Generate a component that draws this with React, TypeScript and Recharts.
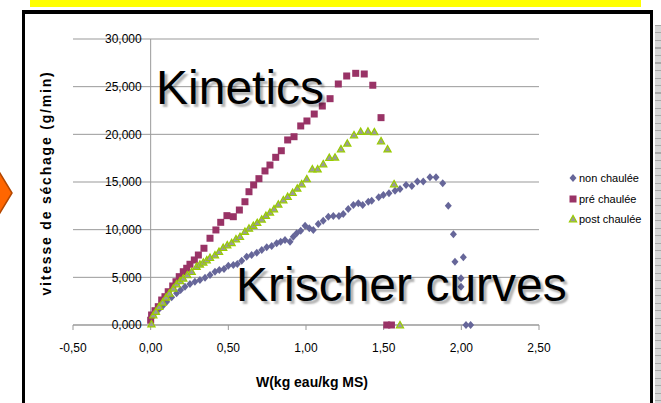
import React from "react";
import { CartesianGrid, Label, Legend, ReferenceLine, Scatter, ScatterChart, XAxis, YAxis } from "recharts";

// W (kg eau/kg MS) and vitesse de séchage (g/min)
const nonW = [0.021, 0.049, 0.077, 0.103, 0.135, 0.167, 0.193, 0.221, 0.253, 0.285, 0.317, 0.35, 0.382, 0.414, 0.442, 0.472, 0.5, 0.532, 0.558, 0.586, 0.618, 0.65, 0.683, 0.715, 0.747, 0.779, 0.811, 0.837, 0.865, 0.897, 0.918, 0.94, 0.966, 0.994, 1.021, 1.047, 1.079, 1.111, 1.144, 1.176, 1.212, 1.24, 1.272, 1.305, 1.337, 1.365, 1.401, 1.423, 1.468, 1.498, 1.534, 1.573, 1.605, 1.644, 1.681, 1.717, 1.755, 1.798, 1.837, 1.88, 1.916, 1.949, 1.959, 2.013, 1.998, 1.998, 2.03, 2.06];
const nonV = [1150, 1570, 1990, 2450, 2900, 3320, 3670, 4020, 4300, 4540, 4720, 4960, 5250, 5590, 5770, 5870, 6220, 6290, 6400, 6750, 7170, 7340, 7580, 7870, 8150, 8290, 8570, 8740, 8920, 8740, 9260, 9620, 9890, 10420, 10140, 9970, 10600, 10940, 11360, 11430, 11430, 11640, 12170, 12590, 12770, 12590, 12930, 13040, 13400, 13640, 13820, 14090, 14270, 14690, 14580, 15040, 15040, 15490, 15490, 14860, 12520, 9510, 6640, 7100, 4900, 4020, 0, 0];

const preW = [0.0, 0.006, 0.028, 0.049, 0.071, 0.092, 0.113, 0.142, 0.163, 0.184, 0.21, 0.232, 0.253, 0.281, 0.307, 0.343, 0.382, 0.42, 0.451, 0.491, 0.532, 0.571, 0.607, 0.633, 0.663, 0.697, 0.736, 0.768, 0.805, 0.841, 0.882, 0.923, 0.966, 1.006, 1.053, 1.105, 1.155, 1.208, 1.262, 1.32, 1.375, 1.43, 1.483, 1.52, 1.55];
const preV = [500, 1050, 1500, 1920, 2620, 2970, 3490, 4090, 4540, 5070, 5590, 5950, 6370, 6820, 7340, 8050, 9100, 9970, 10770, 11470, 11360, 12060, 12930, 13980, 14690, 15350, 16160, 16780, 17590, 18280, 19410, 19750, 20880, 21400, 22130, 22970, 23740, 25280, 26120, 26400, 26330, 25150, 21750, 0, 0];

const postW = [0.005, 0.017, 0.034, 0.055, 0.077, 0.099, 0.12, 0.146, 0.167, 0.189, 0.21, 0.236, 0.264, 0.296, 0.317, 0.339, 0.361, 0.382, 0.414, 0.44, 0.467, 0.493, 0.521, 0.549, 0.575, 0.607, 0.633, 0.661, 0.686, 0.715, 0.742, 0.768, 0.794, 0.822, 0.854, 0.882, 0.914, 0.944, 0.972, 1.005, 1.041, 1.075, 1.111, 1.15, 1.187, 1.225, 1.266, 1.309, 1.352, 1.399, 1.44, 1.483, 1.525, 1.567, 1.605];
const postV = [100, 1050, 1400, 1920, 2380, 2910, 3330, 3850, 4300, 4620, 4900, 5250, 5590, 6120, 6370, 6580, 6820, 7060, 7340, 7690, 8110, 8390, 8630, 9020, 9260, 9790, 10140, 10420, 10730, 11090, 11470, 11820, 12170, 12660, 13110, 13460, 13880, 14340, 14790, 15320, 16360, 16360, 16890, 17550, 17590, 18460, 19060, 19930, 20280, 20310, 20250, 19300, 18450, 14790, 0];

const SERIES_NAMES = ["non chaulée", "pré chaulée", "post chaulée"];
const X_TICKS = [-0.5, 0, 0.5, 1, 1.5, 2, 2.5];
const X_TICK_LABELS = ["-0,50", "0,00", "0,50", "1,00", "1,50", "2,00", "2,50"];
const Y_TICKS = [0, 5000, 10000, 15000, 20000, 25000, 30000];
const Y_TICK_LABELS = ["0,000", "5,000", "10,000", "15,000", "20,000", "25,000", "30,000"];

const toPoints = (w: number[], v: number[]) => w.map((x, i) => ({ w: x, v: v[i] }));

const FONT = '"Liberation Sans", Arial, sans-serif';
const X_MIN = -0.5;
const X_MAX = 2.5;
const PLOT_LEFT = 73;
const PLOT_RIGHT = 539;
const ZERO_X = PLOT_LEFT + ((0 - X_MIN) / (X_MAX - X_MIN)) * (PLOT_RIGHT - PLOT_LEFT);

const BLUE = "#666699";
const PLUM = "#993366";
const GREEN = "#99cc00";

const diamond = (cx: number, cy: number) => (
  <polygon points={`${cx},${cy - 4} ${cx + 3.5},${cy} ${cx},${cy + 4} ${cx - 3.5},${cy}`} fill={BLUE} />
);
const square = (cx: number, cy: number) => <rect x={cx - 3.5} y={cy - 3.5} width={7} height={7} fill={PLUM} />;
const triangle = (cx: number, cy: number) => (
  <polygon
    points={`${cx},${cy - 3.6} ${cx + 3.6},${cy + 2.8} ${cx - 3.6},${cy + 2.8}`}
    fill="#9a9a9a"
    stroke={GREEN}
    strokeWidth={1.2}
  />
);

const MARKERS: Record<string, (cx: number, cy: number) => React.ReactElement> = {
  "non chaulée": diamond,
  "pré chaulée": square,
  "post chaulée": triangle,
};

function YTick({ y, payload }: any) {
  const idx = Y_TICKS.indexOf(payload.value);
  return (
    <text x={ZERO_X - 9} y={y} dy="0.35em" textAnchor="end" fontSize={12} fill="#000">
      {Y_TICK_LABELS[idx]}
    </text>
  );
}

function LegendContent({ payload }: any) {
  const items = [...(payload || [])].sort(
    (a: any, b: any) => SERIES_NAMES.indexOf(a.value) - SERIES_NAMES.indexOf(b.value)
  );
  return (
    <div style={{ fontSize: 11, fontFamily: FONT, color: "#000" }}>
      {items.map((entry: any) => (
        <div key={entry.value} style={{ display: "flex", alignItems: "center", height: 20.5 }}>
          <svg width={10} height={10} style={{ overflow: "visible" }}>
            {MARKERS[entry.value](5, 5)}
          </svg>
          <span style={{ marginLeft: 1, whiteSpace: "nowrap" }}>{entry.value}</span>
        </div>
      ))}
    </div>
  );
}

const overlayText: React.CSSProperties = {
  position: "absolute",
  fontFamily: FONT,
  fontSize: 48,
  lineHeight: "48px",
  color: "#000",
  whiteSpace: "nowrap",
  textShadow: "3px 3px 2px rgba(0,0,0,0.3)",
};

export default function App() {
  return (
    <div style={{ position: "absolute", left: 0, top: 0, width: 661, height: 403, background: "#fff", overflow: "hidden", fontFamily: FONT }}>
      <div style={{ position: "absolute", left: 30, top: 0, width: 611, height: 7, background: "#ffff00" }} />
      <div style={{ position: "absolute", left: 22, top: 10, width: 625, height: 400, borderStyle: "solid", borderColor: "#000", borderWidth: "4px 3px 0 3px" }} />
      <div
        style={{
          position: "absolute",
          left: 655,
          top: 25,
          width: 6,
          height: 378,
          background: "repeating-linear-gradient(180deg, #a8a8a8 0px, #a8a8a8 1px, #d6d6d6 1px, #d6d6d6 7.5px)",
        }}
      />
      <svg width={14} height={60} style={{ position: "absolute", left: 0, top: 166 }}>
        <polygon points="-2,4 12,27 -2,50" fill="#ff6600" stroke="#b34700" strokeWidth={1.5} />
      </svg>

      <div style={{ position: "absolute", left: 0, top: 0 }}>
        <ScatterChart width={661} height={403} margin={{ top: 39, right: 122, bottom: 0, left: 0 }}>
          <CartesianGrid vertical={false} stroke="#999" />
          <XAxis
            type="number"
            dataKey="w"
            domain={[X_MIN, X_MAX]}
            ticks={X_TICKS}
            tickFormatter={(v: number) => X_TICK_LABELS[X_TICKS.indexOf(v)]}
            height={78}
            axisLine={{ stroke: "#999" }}
            tickLine={{ stroke: "#999" }}
            tickSize={5}
            tickMargin={13}
            tick={{ fontSize: 12, fill: "#000" }}
            allowDataOverflow
          >
            <Label
              content={() => (
                <text x={312} y={387} textAnchor="middle" fontSize={14} fontWeight="bold" fill="#000">
                  W(kg eau/kg MS)
                </text>
              )}
            />
          </XAxis>
          <YAxis
            type="number"
            dataKey="v"
            domain={[0, 30000]}
            ticks={Y_TICKS}
            width={73}
            axisLine={false}
            tickLine={false}
            tick={<YTick />}
          >
            <Label
              content={() => (
                <text
                  x={46}
                  y={183}
                  transform="rotate(-90 46 183)"
                  textAnchor="middle"
                  dominantBaseline="central"
                  fontSize={14}
                  fontWeight="bold"
                  letterSpacing={1.8}
                  fill="#000"
                >
                  vitesse de séchage (g/min)
                </text>
              )}
            />
          </YAxis>
          <ReferenceLine x={0} stroke="#999" />
          <Legend
            layout="vertical"
            align="center"
            verticalAlign="middle"
            wrapperStyle={{ left: 568, top: 168, width: 90 }}
            content={<LegendContent />}
          />
          <Scatter
            name="non chaulée"
            data={toPoints(nonW, nonV)}
            legendType="diamond"
            shape={(p: any) => diamond(p.cx, p.cy)}
            isAnimationActive={false}
          />
          <Scatter
            name="pré chaulée"
            data={toPoints(preW, preV)}
            legendType="square"
            shape={(p: any) => square(p.cx, p.cy)}
            isAnimationActive={false}
          />
          <Scatter
            name="post chaulée"
            data={toPoints(postW, postV)}
            legendType="triangle"
            shape={(p: any) => triangle(p.cx, p.cy)}
            isAnimationActive={false}
          />
        </ScatterChart>
      </div>

      <div style={{ ...overlayText, left: 156, top: 64 }}>Kinetics</div>
      <div style={{ ...overlayText, left: 236, top: 261 }}>Krischer curves</div>
    </div>
  );
}
